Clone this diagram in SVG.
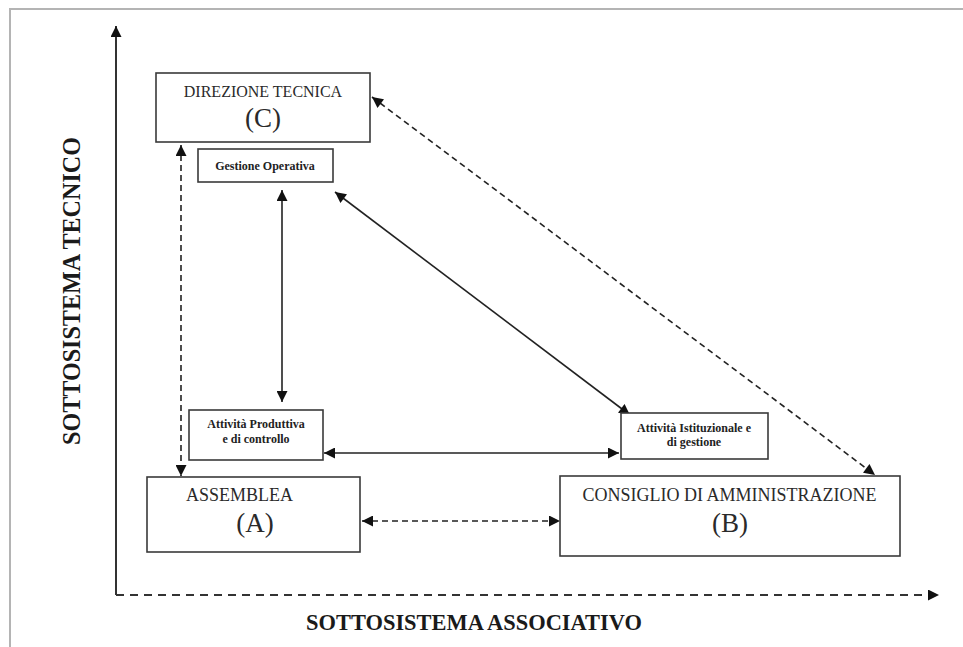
<svg xmlns="http://www.w3.org/2000/svg" width="963" height="647" viewBox="0 0 963 647">
<style>
  .box { fill: #ffffff; stroke: #3a3a3a; stroke-width: 1.6; }
  .big { font-family: "Liberation Serif", "Times New Roman", serif; fill: #2a2a2a; }
  .small { font-family: "Liberation Serif", "Times New Roman", serif; font-weight: bold; font-size: 12px; fill: #222; text-anchor: middle; }
  .axislbl { font-family: "Liberation Serif", "Times New Roman", serif; font-weight: bold; fill: #1a1a1a; }
  .solid { fill: none; stroke: #222; stroke-width: 1.6; }
  .dash { fill: none; stroke: #222; stroke-width: 1.6; stroke-dasharray: 6 4; }
  .axis { fill: none; stroke: #333; stroke-width: 2; }
  .axisdash { fill: none; stroke: #333; stroke-width: 2; stroke-dasharray: 8 6; }
</style>
<defs>
  <marker id="arr" viewBox="0 0 10 10" refX="10" refY="5" markerWidth="12" markerHeight="11" markerUnits="userSpaceOnUse" orient="auto-start-reverse">
    <path d="M0,0 L10,5 L0,10 z" fill="#111"/>
  </marker>
</defs>
<rect width="963" height="647" fill="#ffffff"/>
<g id="frame">
  <path d="M10,647 L10,9 L963,9" fill="none" stroke="#b4b4b4" stroke-width="2"/>
</g>
<g id="axes">
  <path class="axis" d="M116,595 L116,26" marker-end="url(#arr)"/>
  <path class="axisdash" d="M116,595 L939,595" marker-end="url(#arr)"/>
  <text class="axislbl" font-size="25" transform="translate(80,291) rotate(-90)" text-anchor="middle" textLength="308" lengthAdjust="spacingAndGlyphs">SOTTOSISTEMA TECNICO</text>
  <text class="axislbl" font-size="24" x="306" y="630" textLength="336" lengthAdjust="spacingAndGlyphs">SOTTOSISTEMA ASSOCIATIVO</text>
</g>
<g id="connectors">
  <path class="dash" d="M181,145 L181,476" marker-start="url(#arr)" marker-end="url(#arr)"/>
  <path class="solid" d="M282,190 L282,402" marker-start="url(#arr)" marker-end="url(#arr)"/>
  <path class="solid" d="M335,192 L630,415" marker-start="url(#arr)" marker-end="url(#arr)"/>
  <path class="solid" d="M324,453 L619,453" marker-start="url(#arr)" marker-end="url(#arr)"/>
  <path class="dash" d="M362,521 L560,521" marker-start="url(#arr)" marker-end="url(#arr)"/>
  <path class="dash" d="M372,97 L875,475" marker-start="url(#arr)" marker-end="url(#arr)"/>
</g>
<g id="direzione">
  <rect class="box" x="156" y="73" width="214" height="69"/>
  <text class="big" font-size="16" x="263" y="97" text-anchor="middle">DIREZIONE TECNICA</text>
  <text class="big" font-size="27" x="263" y="127" text-anchor="middle">(C)</text>
</g>
<g id="gestione">
  <rect class="box" x="198" y="149" width="135" height="33"/>
  <text class="small" x="265" y="169.5">Gestione Operativa</text>
</g>
<g id="produttiva">
  <rect class="box" x="189" y="410" width="134" height="50"/>
  <text class="small" x="256" y="428">Attività Produttiva</text>
  <text class="small" x="256" y="443">e di controllo</text>
</g>
<g id="istituzionale">
  <rect class="box" x="621" y="413" width="147" height="46"/>
  <text class="small" x="694" y="432">Attività Istituzionale e</text>
  <text class="small" x="694" y="446">di gestione</text>
</g>
<g id="assemblea">
  <rect class="box" x="147" y="477" width="213" height="75"/>
  <text class="big" font-size="18" x="186" y="501">ASSEMBLEA</text>
  <text class="big" font-size="27" x="255" y="532" text-anchor="middle">(A)</text>
</g>
<g id="consiglio">
  <rect class="box" x="560" y="476" width="340" height="80"/>
  <text class="big" font-size="18" x="729.5" y="501" text-anchor="middle">CONSIGLIO DI AMMINISTRAZIONE</text>
  <text class="big" font-size="27" x="730" y="532" text-anchor="middle">(B)</text>
</g>
</svg>
